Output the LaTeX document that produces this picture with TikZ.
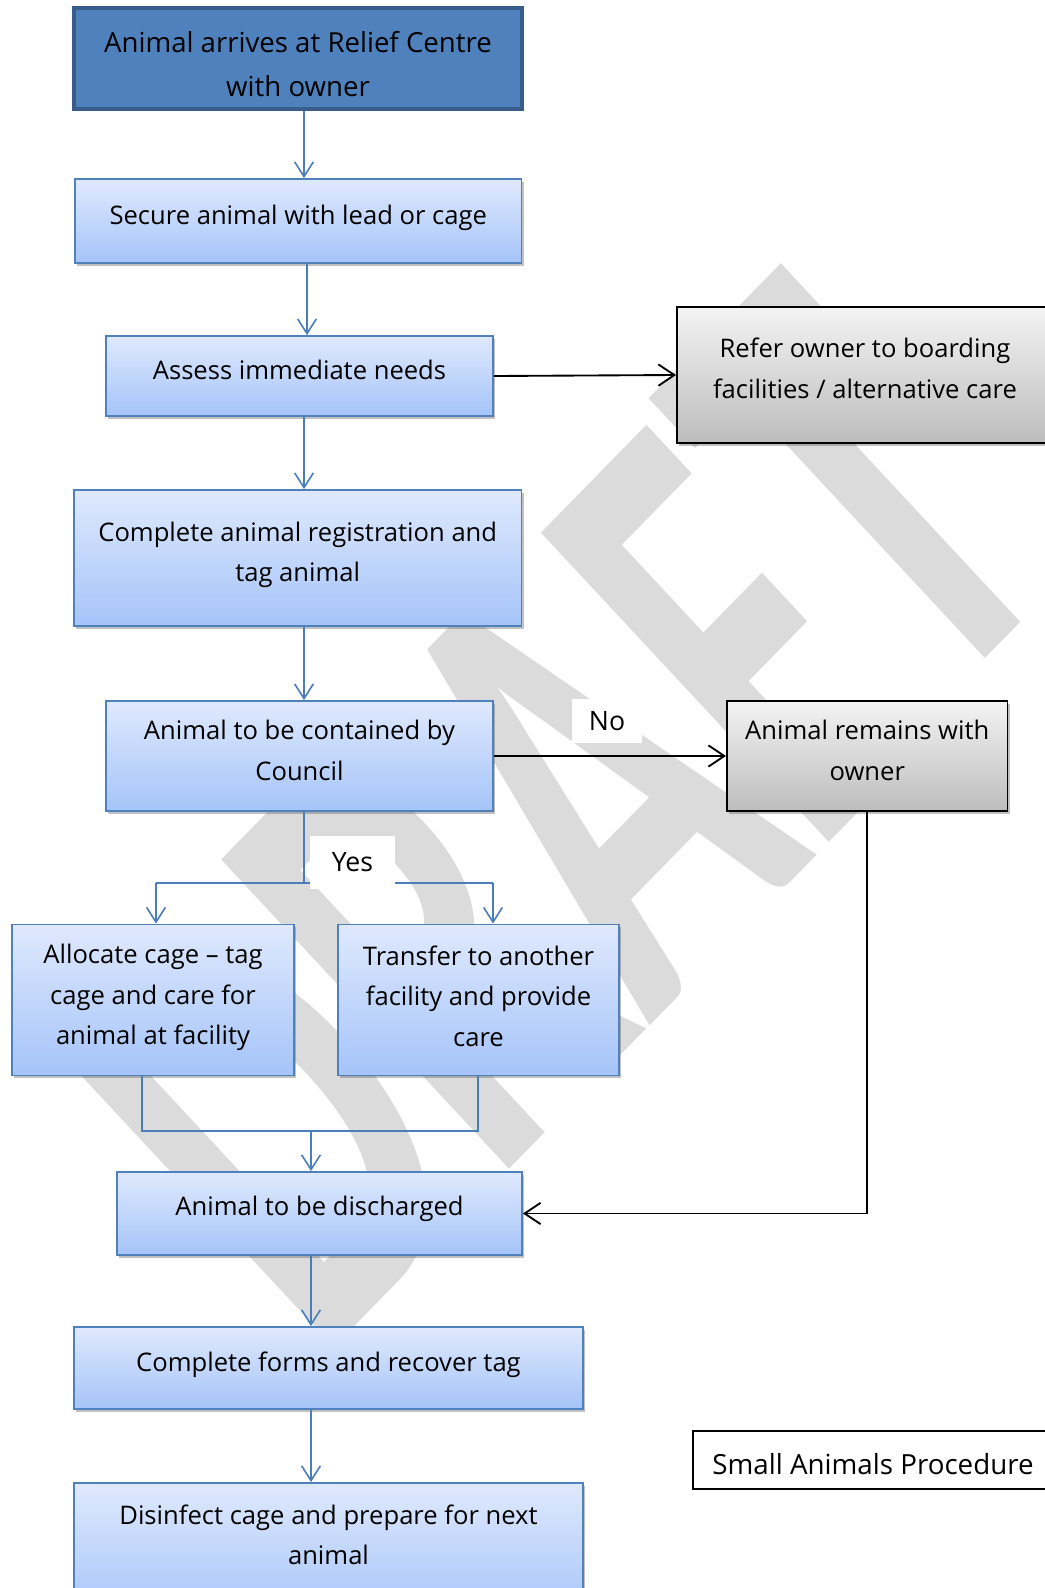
\documentclass[tikz,border=0pt]{standalone}
\usepackage{fontspec}
\setmainfont{Open Sans}
\newfontfamily\wmfont{Carlito}
\usetikzlibrary{arrows.meta,shadows}

\definecolor{boxtop}{HTML}{DFE9FD}
\definecolor{boxbot}{HTML}{A5C4F9}
\definecolor{boxline}{HTML}{4F81BD}
\definecolor{headfill}{HTML}{4F81BD}
\definecolor{headline}{HTML}{385D8A}
\definecolor{greytop}{HTML}{F3F3F3}
\definecolor{greybot}{HTML}{BDBDBD}
\definecolor{linkblue}{HTML}{4A7EBB}
\definecolor{wmgray}{HTML}{DBDBDB}

% invisible struts that set how far a label sits from the box centre
\newcommand\lowstrut[1]{\rule[-#1]{0pt}{#1}}
\newcommand\highstrut[1]{\rule{0pt}{#1}}

\tikzset{
  boxsize/.style 2 args={minimum width=#1*0.75pt, minimum height=#2*0.75pt},
  textstyle/.style={align=center, text=black, inner sep=0pt,
    font=\fontsize{19.2}{30.4}\selectfont},
  boxshadow/.style={drop shadow={shadow xshift=1.6pt, shadow yshift=-2pt,
    opacity=0.35, fill=black!70}},
  flowbox/.style={textstyle, draw=boxline, line width=1.4pt,
    top color=boxtop, bottom color=boxbot, boxshadow},
  greybox/.style={textstyle, draw=black, line width=1.4pt,
    top color=greytop, bottom color=greybot, boxshadow},
  headbox/.style={textstyle, draw=headline, line width=2.6pt, fill=headfill,
    font=\fontsize{20.7}{33}\selectfont},
  titlebox/.style={textstyle, draw=black, line width=0.8pt, fill=white,
    font=\fontsize{20.8}{24}\selectfont},
  lbl/.style={fill=white, inner sep=0pt, text=black,
    font=\fontsize{20}{24}\selectfont},
  bluelink/.style={draw=linkblue, line width=1.2pt},
  bluearrow/.style={bluelink, -{Straight Barb[length=11pt,width=14pt]}},
  blackarrow/.style={draw=black, line width=1.4pt,
    -{Straight Barb[length=12pt,width=16pt]}},
  wmark/.style={cm={2.0775,2.1225,-3.33,3.5775,(0,0)}, anchor=base west,
    inner sep=0pt, outer sep=0pt, text=wmgray,
    font=\wmfont\bfseries\fontsize{100}{100}\selectfont}
}

\newcommand\wmletter[3]{%
  \begin{scope}[shift={#2}]
    \node[wmark] (#1) at (0,0) {#3};
  \end{scope}}

\begin{document}
\begin{tikzpicture}[x=0.75pt, y=-0.75pt]
  \useasboundingbox (0,0) rectangle (1045,1588);

  % diagonal watermark behind the chart
  \wmletter{wmD}{(318,1363)}{D}
  \wmletter{wmR}{(493,1185)}{R}
  \wmletter{wmA}{(649,1026)}{A}
  \wmletter{wmF}{(814,857)}{F}
  \wmletter{wmT}{(934,710)}{T}

  % process steps
  \node[headbox, boxsize={448}{101}] (start) at (298,58.5)
    {\highstrut{24pt}Animal arrives at Relief Centre\\with owner};
  \node[flowbox, boxsize={446.5}{84}] (secure) at (298.25,221)
    {Secure animal with lead or cage\lowstrut{9pt}};
  \node[flowbox, boxsize={387}{80}] (assess) at (299.5,376)
    {Assess immediate needs\lowstrut{9pt}};
  \node[greybox, boxsize={376}{136}] (refer) at (865,375)
    {Refer owner to boarding\\facilities / alternative care\lowstrut{10pt}};
  \node[flowbox, boxsize={447.5}{136}] (reg) at (297.75,558)
    {Complete animal registration and\\tag animal\lowstrut{9pt}};
  \node[flowbox, boxsize={387}{110}] (contained) at (299.5,756)
    {Animal to be contained by\\Council\lowstrut{9pt}};
  \node[greybox, boxsize={280.5}{110}] (remains) at (867.25,756)
    {Animal remains with\\owner\lowstrut{9pt}};
  \node[flowbox, boxsize={282}{151}] (allocate) at (153,1000)
    {Allocate cage -- tag\\cage and care for\\animal at facility\lowstrut{8pt}};
  \node[flowbox, boxsize={281}{151}] (transfer) at (478.5,1000)
    {Transfer to another\\facility and provide\\care\lowstrut{6pt}};
  \node[flowbox, boxsize={405}{83}] (discharged) at (319.5,1213.5)
    {Animal to be discharged\lowstrut{11pt}};
  \node[flowbox, boxsize={509}{82}] (forms) at (328.5,1368)
    {Complete forms and recover tag\lowstrut{9pt}};
  \node[flowbox, boxsize={509}{137}] (disinfect) at (328.5,1551.5)
    {Disinfect cage and prepare for next\\animal\lowstrut{25pt}};
  \node[titlebox, boxsize={360}{58}] (title) at (873,1460)
    {\highstrut{21.8pt}Small Animals Procedure};

  % connector columns and junctions
  \coordinate (cA) at (304,0);
  \coordinate (cB) at (307,0);
  \coordinate (cC) at (311,0);
  \coordinate (split) at (304,883);
  \coordinate (splitL) at (156,883);
  \coordinate (splitR) at (493,883);
  \coordinate (mergeL) at (142,1131);
  \coordinate (mergeR) at (478,1131);

  \draw[bluearrow] (start.south -| cA) -- (secure.north -| cA);
  \draw[bluearrow] (secure.south -| cB) -- (assess.north -| cB);
  \draw[bluearrow] (assess.south -| cA) -- (reg.north -| cA);
  \draw[bluearrow] (reg.south -| cA) -- (contained.north -| cA);

  \draw[bluelink] (contained.south -| cA) -- (split);
  \draw[bluelink] (splitL) -- (splitR);
  \draw[bluearrow] (splitL) -- (allocate.north -| splitL);
  \draw[bluearrow] (splitR) -- (transfer.north -| splitR);

  \draw[bluelink] (allocate.south -| mergeL) -- (mergeL) -- (mergeR)
    -- (transfer.south -| mergeR);
  \draw[bluearrow] (mergeL -| cC) -- (discharged.north -| cC);
  \draw[bluearrow] (discharged.south -| cC) -- (forms.north -| cC);
  \draw[bluearrow] (forms.south -| cC) -- (disinfect.north -| cC);

  \draw[blackarrow] (assess.east) -- (refer.west);
  \draw[blackarrow] (contained.east) -- (remains.west);
  \draw[blackarrow] (remains.south) |- (discharged.east);

  % branch labels
  \node[lbl, boxsize={70}{44}] (no) at (607,721) {No};
  \node[lbl, boxsize={85}{53}] (yes) at (352.5,862) {Yes};
\end{tikzpicture}
\end{document}
